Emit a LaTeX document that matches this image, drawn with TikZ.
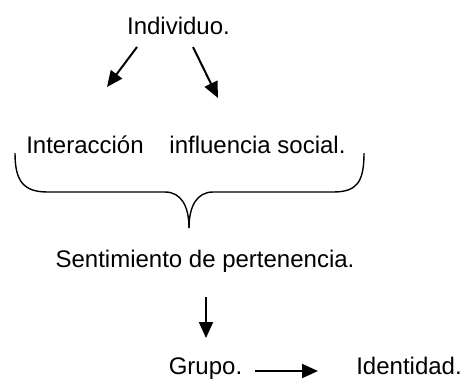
\documentclass[tikz,border=0pt]{standalone}
\usepackage{fontspec}
\setmainfont{Liberation Sans}
\usetikzlibrary{arrows.meta}
\tikzset{
  txt/.style={anchor=base, inner sep=0pt, font=\fontsize{12}{14}\selectfont},
  arr/.style={line width=1pt, -{Triangle[length=8pt, width=7pt]}}
}
\begin{document}
\begin{tikzpicture}[x=0.5pt, y=-0.5pt]
\useasboundingbox (0,0) rectangle (464,387);

% Texts
\node[txt] (indiv) at (178.5,34) {Individuo.};
\node[txt] (inter) at (85,153) {Interacción};
\node[txt] (influ) at (257.5,153) {influencia social.};
\node[txt] (senti) at (205,267.5) {Sentimiento de pertenencia.};
\node[txt] (grupo) at (205.5,374) {Grupo.};
\node[txt] (ident) at (409,374) {Identidad.};

% Arrow ends
\coordinate (a1) at (137,47);
\coordinate (b1) at (107,87);
\coordinate (a2) at (193,47);
\coordinate (b2) at (218,98);
\coordinate (a3) at (206,297);
\coordinate (b3) at (206,338);
\coordinate (a4) at (255,371);
\coordinate (b4) at (318,371);

% Arrows
\draw[arr] (a1) -- (b1);
\draw[arr] (a2) -- (b2);
\draw[arr] (a3) -- (b3);
\draw[arr] (a4) -- (b4);

% Brace
\draw[line width=0.7pt] (15,153) .. controls (15,182) and (24,192) .. (48,192)
  -- (165,192) .. controls (181,192) and (189,206) .. (189,228);
\draw[line width=0.7pt] (189,228) .. controls (189,206) and (197,192) .. (213,192)
  -- (333,192) .. controls (357,192) and (364,182) .. (364,153);

\end{tikzpicture}
\end{document}
